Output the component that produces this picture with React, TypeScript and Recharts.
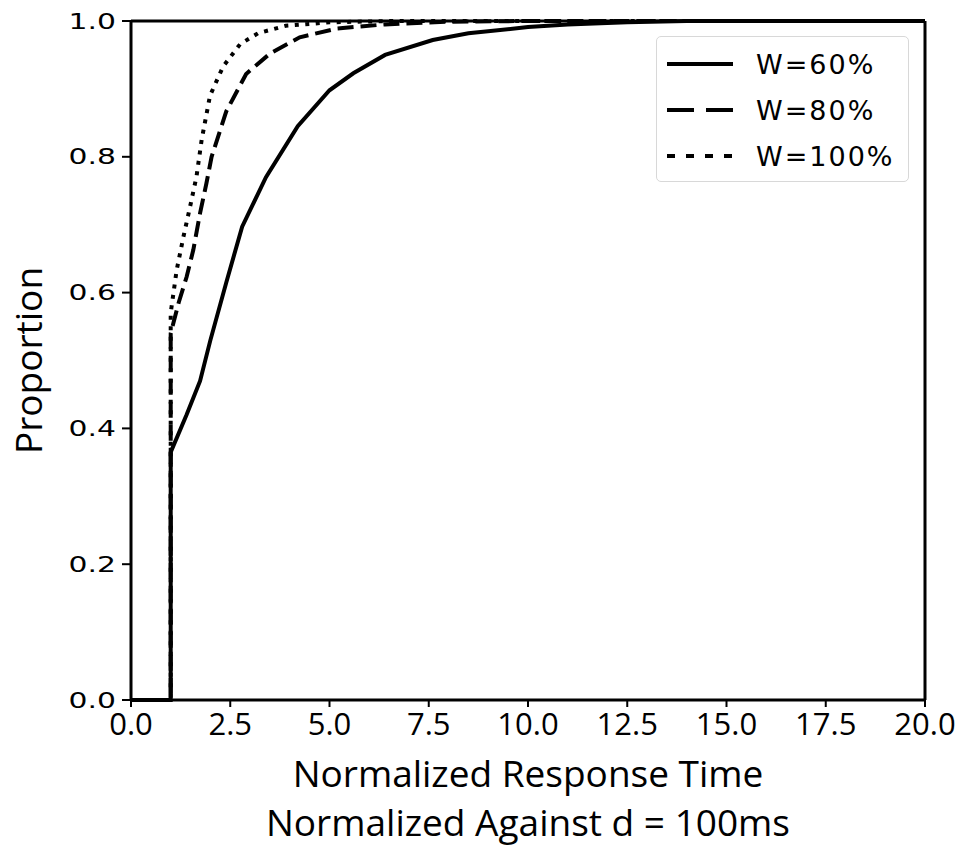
import { LineChart, Line, XAxis, YAxis, Label, ReferenceLine } from 'recharts';

const X_TICKS = [0, 2.5, 5, 7.5, 10, 12.5, 15, 17.5, 20];
const Y_TICKS = [0, 0.2, 0.4, 0.6, 0.8, 1.0];

const W60 = [
  { x: 0, y: 0 }, { x: 1, y: 0 }, { x: 1, y: 0.365 }, { x: 1.4, y: 0.42 },
  { x: 1.74, y: 0.47 }, { x: 2, y: 0.53 }, { x: 2.4, y: 0.615 }, { x: 2.8, y: 0.697 },
  { x: 3.4, y: 0.77 }, { x: 4.2, y: 0.845 }, { x: 5, y: 0.898 }, { x: 5.6, y: 0.923 },
  { x: 6.4, y: 0.95 }, { x: 7.6, y: 0.972 }, { x: 8.5, y: 0.982 }, { x: 10, y: 0.991 },
  { x: 11, y: 0.995 }, { x: 12.5, y: 0.998 }, { x: 14, y: 1 }, { x: 20, y: 1 },
];

const W80 = [
  { x: 0, y: 0 }, { x: 1, y: 0 }, { x: 1, y: 0.54 }, { x: 1.2, y: 0.585 },
  { x: 1.4, y: 0.623 }, { x: 1.57, y: 0.663 }, { x: 1.74, y: 0.717 }, { x: 1.9, y: 0.761 },
  { x: 2.03, y: 0.8 }, { x: 2.4, y: 0.867 }, { x: 2.9, y: 0.922 }, { x: 3.5, y: 0.952 },
  { x: 4.25, y: 0.976 }, { x: 5.2, y: 0.989 }, { x: 6.4, y: 0.995 }, { x: 8, y: 0.999 },
  { x: 10, y: 1 }, { x: 20, y: 1 },
];

const W100 = [
  { x: 0, y: 0 }, { x: 1, y: 0 }, { x: 1, y: 0.57 }, { x: 1.15, y: 0.633 },
  { x: 1.32, y: 0.682 }, { x: 1.49, y: 0.727 }, { x: 1.65, y: 0.771 }, { x: 1.78, y: 0.825 },
  { x: 1.99, y: 0.89 }, { x: 2.32, y: 0.933 }, { x: 2.75, y: 0.966 }, { x: 3.2, y: 0.982 },
  { x: 3.9, y: 0.993 }, { x: 5, y: 0.998 }, { x: 6.5, y: 1 }, { x: 20, y: 1 },
];

const SERIES = [
  { name: 'W=60%', data: W60, dash: undefined, legendDash: undefined },
  { name: 'W=80%', data: W80, dash: '16 7', legendDash: '27 12' },
  { name: 'W=100%', data: W100, dash: '4 6.5', legendDash: '8 11' },
];

const TICK_FONT = '"DejaVu Sans", sans-serif';
const LABEL_FONT = '"Open Sans", sans-serif';

function LegendBox() {
  return (
    <div style={{
      position: 'absolute', left: 656, top: 36, width: 253, height: 146,
      boxSizing: 'border-box', border: '1px solid #d8d8d8',
      borderRadius: 5, background: '#fff', padding: '4px 0 0 10px',
    }}>
      {SERIES.map((s) => (
        <div key={s.name} style={{ display: 'flex', alignItems: 'center', height: 46 }}>
          <svg width={66} height={10}>
            <line x1={0} y1={5} x2={66} y2={5} stroke="#000" strokeWidth={4} strokeDasharray={s.legendDash} />
          </svg>
          <span style={{ marginLeft: 23, fontFamily: TICK_FONT, fontSize: 27, letterSpacing: 2, color: '#000' }}>
            {s.name}
          </span>
        </div>
      ))}
    </div>
  );
}

function XTick(props: any) {
  const { x, y, payload } = props;
  return (
    <text x={x} y={y + 26} textAnchor="middle" fontFamily={LABEL_FONT} fontSize={31} fill="#000">
      {Number(payload.value).toFixed(1)}
    </text>
  );
}

function YTick(props: any) {
  const { x, y, payload } = props;
  return (
    <g transform={`translate(${x - 4},${y}) scale(1.42,1)`}>
      <text x={0} y={7.5} textAnchor="end" fontFamily={TICK_FONT} fontSize={21} fill="#000">
        {Number(payload.value).toFixed(1)}
      </text>
    </g>
  );
}

function XLabel(props: any) {
  const vb = props.viewBox;
  const cx = vb.x + vb.width / 2;
  return (
    <g fontFamily={LABEL_FONT} fontSize={37} fill="#000" textAnchor="middle">
      <text x={cx} y={787}>Normalized Response Time</text>
      <text x={cx} y={836}>Normalized Against d = 100ms</text>
    </g>
  );
}

function YLabel(props: any) {
  const vb = props.viewBox;
  const cy = vb.y + vb.height / 2;
  return (
    <text x={42} y={cy} transform={`rotate(-90, 42, ${cy})`} fontFamily={LABEL_FONT} fontSize={37}
      fill="#000" textAnchor="middle">
      Proportion
    </text>
  );
}

export default function App() {
  return (
    <div style={{ position: 'absolute', left: 0, top: 0, background: '#fff' }}>
      <LineChart width={961} height={847} margin={{ top: 21, right: 36, bottom: 87, left: 51 }}>
        <XAxis
          xAxisId="b" dataKey="x" type="number" domain={[0, 20]} ticks={X_TICKS}
          allowDuplicatedCategory={false}
          height={60} tickSize={7}
          axisLine={{ stroke: '#000', strokeWidth: 3 }}
          tickLine={{ stroke: '#000', strokeWidth: 2 }}
          tick={<XTick />}
          label={<Label content={XLabel} />}
        />
        <YAxis
          yAxisId="l" type="number" domain={[0, 1]} ticks={Y_TICKS} width={80} tickSize={9}
          axisLine={{ stroke: '#000', strokeWidth: 3 }}
          tickLine={{ stroke: '#000', strokeWidth: 2 }}
          tick={<YTick />}
          label={<Label content={YLabel} />}
        />
        <ReferenceLine xAxisId="b" yAxisId="l" y={1} stroke="#000" strokeWidth={3} />
        <ReferenceLine xAxisId="b" yAxisId="l" x={20} stroke="#000" strokeWidth={3} />
        {SERIES.map((s) => (
          <Line key={s.name} xAxisId="b" yAxisId="l" data={s.data} dataKey="y" name={s.name}
            type="linear" stroke="#000" strokeWidth={4} strokeDasharray={s.dash}
            dot={false} isAnimationActive={false} />
        ))}
      </LineChart>
      <LegendBox />
    </div>
  );
}
